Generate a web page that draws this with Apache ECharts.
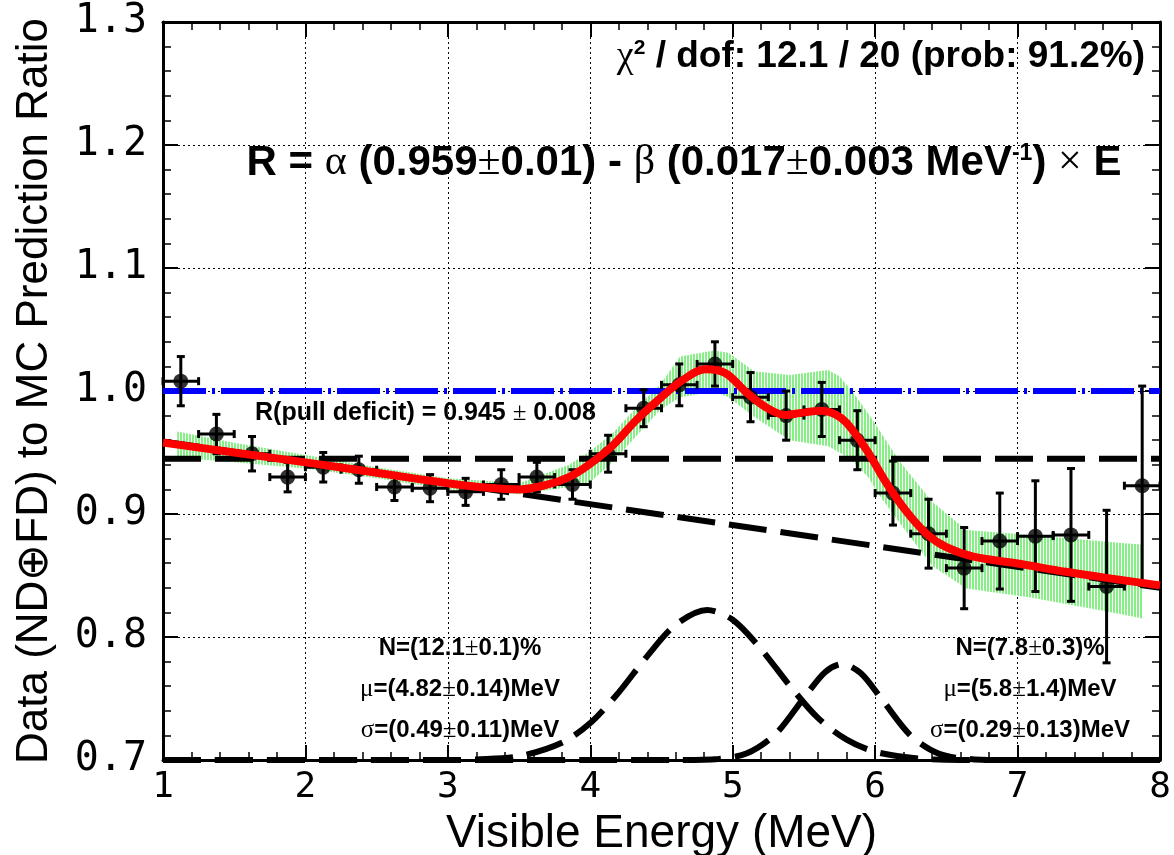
<!DOCTYPE html>
<html>
<head>
<meta charset="utf-8">
<title>Data / MC ratio vs visible energy</title>
<script src="https://cdn.jsdelivr.net/npm/echarts@6/dist/echarts.min.js"></script>
<style>
  html, body { margin: 0; padding: 0; background: #fff; }
  #main { width: 1174px; height: 855px; }
</style>
</head>
<body>
<div id="main"></div>
<script>
// ---- values ----
var energy   = [1.125, 1.375, 1.625, 1.875, 2.125, 2.375, 2.625, 2.875, 3.125, 3.375, 3.625, 3.875, 4.125, 4.375,
                4.625, 4.875, 5.125, 5.375, 5.625, 5.875, 6.125, 6.375, 6.625, 6.875, 7.125, 7.375, 7.625, 7.875];
var ratio    = [1.008, 0.965, 0.949, 0.930, 0.938, 0.936, 0.922, 0.921, 0.918, 0.924, 0.930, 0.924, 0.949, 0.986,
                1.005, 1.022, 0.995, 0.980, 0.985, 0.960, 0.917, 0.884, 0.856, 0.878, 0.882, 0.883, 0.841, 0.923];
var ratioErr = [0.020, 0.016, 0.014, 0.012, 0.012, 0.011, 0.011, 0.011, 0.011, 0.012, 0.012, 0.012, 0.015, 0.015,
                0.017, 0.018, 0.020, 0.020, 0.022, 0.024, 0.026, 0.028, 0.033, 0.039, 0.045, 0.054, 0.062, 0.081];
var binHalf = 0.125;

// full fit (red)
var fitE = [1.0, 1.5, 2.0, 2.5, 3.0, 3.22, 3.5, 3.69, 3.85, 3.99, 4.16, 4.32, 4.49, 4.65, 4.81, 4.95, 5.09, 5.23,
            5.37, 5.47, 5.62, 5.72, 5.80, 5.94, 6.08, 6.22, 6.36, 6.50, 6.69, 6.99, 7.34, 7.69, 8.0];
var fitR = [0.958, 0.950, 0.942, 0.9335, 0.925, 0.922, 0.920, 0.9236, 0.930, 0.940, 0.956, 0.976, 0.994, 1.009, 1.0176,
            1.0144, 0.9995, 0.987, 0.9805, 0.982, 0.984, 0.981, 0.974, 0.952, 0.925, 0.902, 0.884, 0.873, 0.8653,
            0.860, 0.853, 0.847, 0.842];

// fit error band (green)
var bandE  = [1.1, 1.5, 2.0, 2.5, 3.0, 3.5, 3.85, 4.0, 4.16, 4.32, 4.49, 4.63, 4.87, 4.97, 5.15, 5.4, 5.67, 5.75,
              5.85, 5.95, 6.03, 6.17, 6.40, 6.64, 7.10, 7.57, 7.88];
var bandHi = [0.967, 0.958, 0.948, 0.938, 0.929, 0.925, 0.940, 0.951, 0.966, 0.986, 1.005, 1.028, 1.033, 1.031,
              1.016, 1.013, 1.017, 1.012, 0.998, 0.982, 0.968, 0.943, 0.910, 0.887, 0.883, 0.878, 0.875];
var bandLo = [0.946, 0.942, 0.937, 0.929, 0.920, 0.916, 0.922, 0.926, 0.9425, 0.963, 0.9845, 0.995, 0.9995, 0.995,
              0.979, 0.960, 0.955, 0.950, 0.942, 0.930, 0.915, 0.893, 0.858, 0.8395, 0.832, 0.822, 0.815];

// linear part of the fit, flat reference lines
var linE = [1.0, 8.0];
var linR = [0.959, 0.840];
var refE = [1.0, 8.0];
var noDeficit = 1.0;
var pullDeficit = 0.945;

// the two bumps drawn on the floor of the plot
var gaus1E = [1.0, 3.0, 3.2, 3.5, 3.8, 4.0, 4.2, 4.4, 4.6, 4.82, 5.0, 5.2, 5.4, 5.6, 5.8, 6.0, 6.3, 6.6, 8.0];
var gaus1R = [0.700, 0.700, 0.7005, 0.703, 0.714, 0.730, 0.755, 0.7845, 0.810, 0.822, 0.814, 0.790, 0.7605,
              0.734, 0.7165, 0.7067, 0.7013, 0.700, 0.700];
var gaus2E = [1.0, 4.6, 4.9, 5.1, 5.3, 5.5, 5.65, 5.77, 5.9, 6.05, 6.25, 6.45, 6.7, 7.0, 8.0];
var gaus2R = [0.700, 0.700, 0.7009, 0.7054, 0.721, 0.7505, 0.7716, 0.778, 0.7705, 0.7489, 0.7198, 0.705, 0.7005,
              0.700, 0.700];

function pairs(xs, ys) {
  return xs.map(function (x, i) { return [x, ys[i]]; });
}

// vertical green hatching for the band
var hatch = document.createElement('canvas');
hatch.width = 3;
hatch.height = 4;
var hctx = hatch.getContext('2d');
hctx.fillStyle = '#ffffff';
hctx.fillRect(0, 0, 3, 4);
hctx.fillStyle = '#86f086';
hctx.fillRect(0, 0, 2, 4);

var chart = echarts.init(document.getElementById('main'));

var blackDash = [38, 14];
var tickFont = 'DejaVu Sans Mono';
var textFont = 'Liberation Sans';
var greekFont = 'Liberation Serif';

var mirrorAxis = {
  axisLine: { show: true, onZero: false, lineStyle: { color: '#000', width: 3 } },
  axisTick: { show: true, inside: true, length: 15, lineStyle: { color: '#000', width: 2 } },
  minorTick: { show: true, splitNumber: 5, length: 8, lineStyle: { color: '#000', width: 1.5 } },
  axisLabel: { show: false },
  splitLine: { show: false }
};

var option = {
  backgroundColor: '#fff',
  animation: false,
  grid: { left: 163, right: 14, top: 22, bottom: 95, containLabel: false, outerBoundsMode: 'none' },
  xAxis: [{
    type: 'value', min: 1, max: 8, interval: 1, position: 'bottom',
    name: 'Visible Energy (MeV)', nameLocation: 'middle', nameGap: 44,
    nameTextStyle: { fontFamily: textFont, fontSize: 46, color: '#000' },
    axisLine: { show: true, onZero: false, lineStyle: { color: '#000', width: 3 } },
    axisTick: { show: true, inside: true, length: 15, lineStyle: { color: '#000', width: 2 } },
    minorTick: { show: true, splitNumber: 5, length: 8, lineStyle: { color: '#000', width: 1.5 } },
    axisLabel: { fontFamily: tickFont, fontSize: 36, color: '#000', margin: 10 },
    splitLine: { show: true, lineStyle: { color: '#000', width: 1, type: [2, 3] } }
  }, Object.assign({ type: 'value', min: 1, max: 8, interval: 1, position: 'top' }, mirrorAxis)],
  yAxis: [{
    type: 'value', min: 0.7, max: 1.3, interval: 0.1, position: 'left',
    name: 'Data (ND\u2295FD) to MC Prediction Ratio', nameLocation: 'middle', nameGap: 106, nameRotate: 90,
    nameTextStyle: { fontFamily: textFont, fontSize: 44, color: '#000' },
    axisLine: { show: true, onZero: false, lineStyle: { color: '#000', width: 3 } },
    axisTick: { show: true, inside: true, length: 15, lineStyle: { color: '#000', width: 2 } },
    minorTick: { show: true, splitNumber: 5, length: 8, lineStyle: { color: '#000', width: 1.5 } },
    axisLabel: {
      fontFamily: tickFont, fontSize: 40, color: '#000', margin: 16,
      formatter: function (v) { return v.toFixed(1); }
    },
    splitLine: { show: true, lineStyle: { color: '#000', width: 1, type: [2, 3] } }
  }, Object.assign({ type: 'value', min: 0.7, max: 1.3, interval: 0.1, position: 'right' }, mirrorAxis)],
  series: [
    {
      // error band of the fit
      type: 'custom', z: 2, silent: true,
      data: bandE.map(function (e, i) { return [e, bandHi[i], bandLo[i]]; }),
      renderItem: function (params, api) {
        if (params.dataIndex !== 0) return null;
        var pts = [], i;
        for (i = 0; i < bandE.length; i++) pts.push(api.coord([bandE[i], bandHi[i]]));
        for (i = bandE.length - 1; i >= 0; i--) pts.push(api.coord([bandE[i], bandLo[i]]));
        return { type: 'polygon', shape: { points: pts }, style: { fill: { image: hatch, repeat: 'repeat' } } };
      }
    },
    {
      type: 'line', z: 3, data: pairs(refE, [noDeficit, noDeficit]), showSymbol: false, silent: true,
      lineStyle: { color: '#0000ff', width: 6, type: [43, 6, 3, 6] }
    },
    {
      type: 'line', z: 3, data: pairs(refE, [pullDeficit, pullDeficit]), showSymbol: false, silent: true,
      lineStyle: { color: '#000', width: 6, type: blackDash }
    },
    {
      type: 'line', z: 3, data: pairs(linE, linR), showSymbol: false, silent: true,
      lineStyle: { color: '#000', width: 6, type: blackDash }
    },
    {
      type: 'line', z: 3, data: pairs(gaus1E, gaus1R), showSymbol: false, smooth: 0.3, clip: false, silent: true,
      lineStyle: { color: '#000', width: 6, type: blackDash }
    },
    {
      type: 'line', z: 3, data: pairs(gaus2E, gaus2R), showSymbol: false, smooth: 0.3, clip: false, silent: true,
      lineStyle: { color: '#000', width: 6, type: blackDash }
    },
    {
      // error bars
      type: 'custom', z: 4, silent: true,
      data: energy.map(function (e, i) { return [e, ratio[i], ratioErr[i]]; }),
      renderItem: function (params, api) {
        var x = api.value(0), y = api.value(1), err = api.value(2);
        var top = api.coord([x, y + err]);
        var bot = api.coord([x, y - err]);
        var l = api.coord([x - binHalf, y]);
        var r = api.coord([x + binHalf, y]);
        var st = { stroke: '#000', lineWidth: 3 };
        return {
          type: 'group',
          children: [
            { type: 'line', shape: { x1: top[0], y1: top[1], x2: bot[0], y2: bot[1] }, style: st },
            { type: 'line', shape: { x1: l[0], y1: l[1], x2: r[0], y2: r[1] }, style: st },
            { type: 'line', shape: { x1: top[0] - 4, y1: top[1], x2: top[0] + 4, y2: top[1] }, style: st },
            { type: 'line', shape: { x1: bot[0] - 4, y1: bot[1], x2: bot[0] + 4, y2: bot[1] }, style: st },
            { type: 'line', shape: { x1: l[0], y1: l[1] - 4, x2: l[0], y2: l[1] + 4 }, style: st },
            { type: 'line', shape: { x1: r[0], y1: r[1] - 4, x2: r[0], y2: r[1] + 4 }, style: st }
          ]
        };
      }
    },
    {
      type: 'scatter', z: 5, data: pairs(energy, ratio), symbol: 'circle', symbolSize: 15, silent: true,
      itemStyle: { color: '#000' }
    },
    {
      type: 'line', z: 6, data: pairs(fitE, fitR), showSymbol: false, smooth: 0.35, silent: true,
      lineStyle: { color: '#ff0000', width: 8 }
    }
  ],
  graphic: [
    {
      type: 'text', x: 1145, y: 57, z: 10,
      style: {
        text: '{g|\u03c7}{s|2}{b| / dof: 12.1 / 20 (prob: 91.2%)}',
        align: 'right', verticalAlign: 'middle',
        rich: {
          b: { fontFamily: textFont, fontWeight: 'bold', fontSize: 37, fill: '#000' },
          g: { fontFamily: greekFont, fontSize: 38, fill: '#000' },
          s: { fontFamily: textFont, fontWeight: 'bold', fontSize: 21, fill: '#000', verticalAlign: 'top' }
        }
      }
    },
    {
      type: 'text', x: 684, y: 163, z: 10,
      style: {
        text: '{b|R = }{g|\u03b1}{b| (0.959}{g|\u00b1}{b|0.01) - }{g|\u03b2}{b| (0.017}{g|\u00b1}{b|0.003 MeV}{s|-1}{b|) }{g|\u00d7}{b| E}',
        align: 'center', verticalAlign: 'middle',
        rich: {
          b: { fontFamily: textFont, fontWeight: 'bold', fontSize: 42, fill: '#000' },
          g: { fontFamily: greekFont, fontSize: 42, fill: '#000' },
          s: { fontFamily: textFont, fontWeight: 'bold', fontSize: 23, fill: '#000', verticalAlign: 'top' }
        }
      }
    },
    {
      type: 'text', x: 255, y: 413, z: 10,
      style: {
        text: '{b|R(pull deficit) = 0.945 }{g|\u00b1}{b| 0.008}',
        align: 'left', verticalAlign: 'middle',
        rich: {
          b: { fontFamily: textFont, fontWeight: 'bold', fontSize: 25, fill: '#000' },
          g: { fontFamily: greekFont, fontSize: 25, fill: '#000' }
        }
      }
    },
    {
      type: 'text', x: 460, y: 689, z: 10,
      style: {
        text: '{b|N=(12.1}{g|\u00b1}{b|0.1)%}\n{g|\u03bc}{b|=(4.82}{g|\u00b1}{b|0.14)MeV}\n{g|\u03c3}{b|=(0.49}{g|\u00b1}{b|0.11)MeV}',
        align: 'center', verticalAlign: 'middle',
        rich: {
          b: { fontFamily: textFont, fontWeight: 'bold', fontSize: 24, fill: '#000', lineHeight: 41 },
          g: { fontFamily: greekFont, fontSize: 25, fill: '#000', lineHeight: 41 }
        }
      }
    },
    {
      type: 'text', x: 1030, y: 689, z: 10,
      style: {
        text: '{b|N=(7.8}{g|\u00b1}{b|0.3)%}\n{g|\u03bc}{b|=(5.8}{g|\u00b1}{b|1.4)MeV}\n{g|\u03c3}{b|=(0.29}{g|\u00b1}{b|0.13)MeV}',
        align: 'center', verticalAlign: 'middle',
        rich: {
          b: { fontFamily: textFont, fontWeight: 'bold', fontSize: 24, fill: '#000', lineHeight: 41 },
          g: { fontFamily: greekFont, fontSize: 25, fill: '#000', lineHeight: 41 }
        }
      }
    }
  ]
};

chart.setOption(option);
</script>
</body>
</html>
